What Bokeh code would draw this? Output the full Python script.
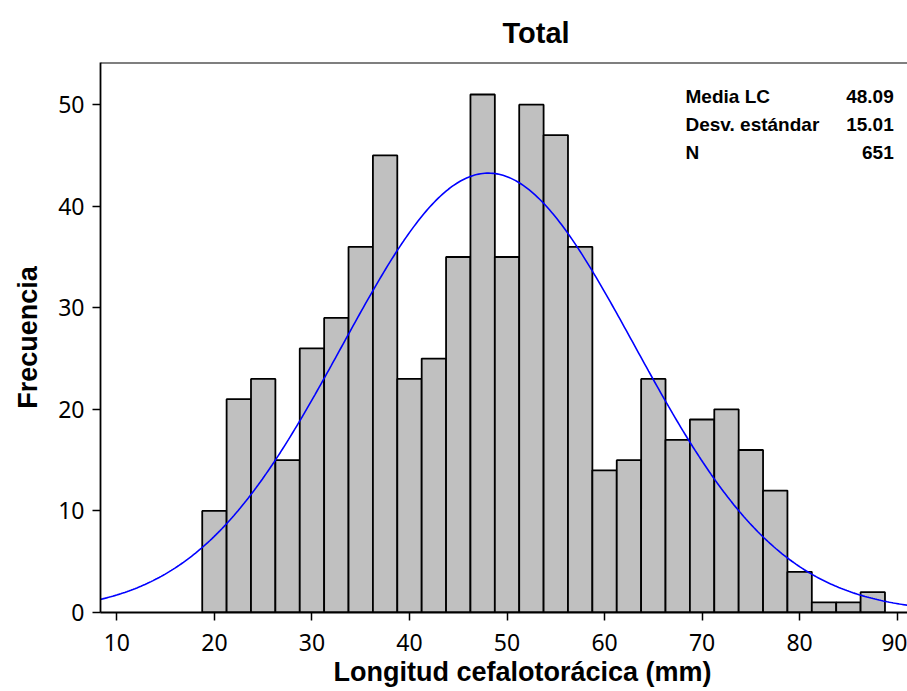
import numpy as np
from bokeh.plotting import figure
from bokeh.models import Range1d, Label, Span, FixedTicker, Title
from bokeh.embed import file_html
from bokeh.resources import INLINE

# ---- data ----
bin_centers = [20.0, 22.5, 25.0, 27.5, 30.0, 32.5, 35.0, 37.5, 40.0, 42.5,
               45.0, 47.5, 50.0, 52.5, 55.0, 57.5, 60.0, 62.5, 65.0, 67.5,
               70.0, 72.5, 75.0, 77.5, 80.0, 82.5, 85.0, 87.5]
counts = [10, 21, 23, 15, 26, 29, 36, 45, 23, 25,
          35, 51, 35, 50, 47, 36, 14, 15, 23, 17,
          19, 20, 16, 12, 4, 1, 1, 2]
bin_width = 2.5
mean_lc = 48.09
sd_lc = 15.01
n_total = 651
x_ticks = [10, 20, 30, 40, 50, 60, 70, 80, 90]
y_ticks = [0, 10, 20, 30, 40, 50]
stat_names = ["Media LC", "Desv. estándar", "N"]
stat_values = ["48.09", "15.01", "651"]

X0, X1 = 8.32, 91.06
Y0, Y1 = 0.0, 54.15

font = "Liberation Sans"

p = figure(width=907, height=691, output_backend="svg", toolbar_location=None,
           x_range=Range1d(X0, X1), y_range=Range1d(Y0, Y1),
           min_border_left=100, min_border_right=0, min_border_top=61,
           min_border_bottom=79)
p.outline_line_color = None
p.grid.visible = False
p.background_fill_color = "white"
p.border_fill_color = "white"

p.title.text = "Total"
p.title.text_font = font
p.title.text_font_style = "bold"
p.title.text_font_size = "29px"
p.title.text_color = "black"
p.title.align = "left"
p.title.offset = 402
p.title.standoff = 28

p.add_layout(Title(text="Longitud cefalotorácica (mm)", text_font=font,
                   text_font_style="bold", text_font_size="27px", text_color="black",
                   align="left", offset=233, standoff=6, vertical_align="top"), "below")

p.vbar(x=bin_centers, width=bin_width, top=counts, bottom=0,
       fill_color="#C0C0C0", line_color="black", line_width=1.8)

# fitted normal curve
xs = np.linspace(X0, X1, 400)
ys = n_total * bin_width / (sd_lc * np.sqrt(2 * np.pi)) * np.exp(-0.5 * ((xs - mean_lc) / sd_lc) ** 2)
p.line(xs, ys, line_color="#0000FF", line_width=1.6)

p.add_layout(Span(location=Y1, dimension="width", line_color="black", line_width=1.8))

for ax in (p.xaxis, p.yaxis):
    ax.axis_line_color = "black"
    ax.axis_line_width = 1.8
    ax.major_tick_line_width = 1.5
    ax.major_tick_out = 8
    ax.major_tick_in = 0
    ax.minor_tick_line_color = None
    ax.major_label_text_font = "Noto Sans"
    ax.major_label_text_font_size = "23px"
    ax.major_label_text_color = "black"
p.xaxis.ticker = FixedTicker(ticks=x_ticks)
p.yaxis.ticker = FixedTicker(ticks=y_ticks)
p.xaxis.major_label_standoff = 13
p.yaxis.major_label_standoff = 8

p.yaxis.axis_label = "Frecuencia"
p.yaxis.axis_label_text_font = font
p.yaxis.axis_label_text_font_style = "bold"
p.yaxis.axis_label_text_font_size = "27px"
p.yaxis.axis_label_text_color = "black"
p.yaxis.axis_label_standoff = 12

stat_y = [50.8, 48.05, 45.3]
for name, val, yy in zip(stat_names, stat_values, stat_y):
    p.add_layout(Label(x=68.3, y=yy, text=name, text_font=font, text_font_style="bold",
                       text_font_size="19px", text_color="black",
                       text_align="left", text_baseline="middle"))
    p.add_layout(Label(x=89.65, y=yy, text=val, text_font=font, text_font_style="bold",
                       text_font_size="19px", text_color="black",
                       text_align="right", text_baseline="middle"))

open("out.html", "w").write(file_html(p, INLINE))
